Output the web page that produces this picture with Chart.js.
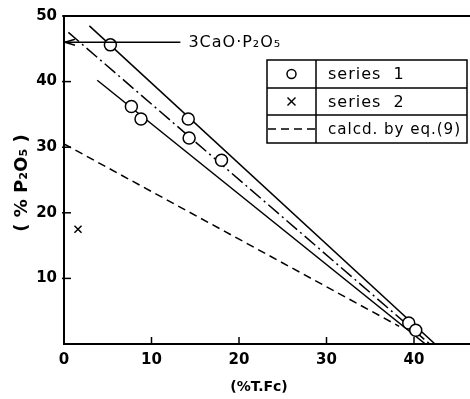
<!DOCTYPE html>
<html>
<head>
<meta charset="utf-8">
<script src="https://cdn.jsdelivr.net/npm/chart.js@4"></script>
<style>
  html, body { margin: 0; padding: 0; background: #fff; overflow: hidden; }
  #caixa { width: 470px; height: 399px; position: relative; }
  #grafico { display: block; }
</style>
</head>
<body>
<div id="caixa"><canvas id="grafico"></canvas></div>
<script>
// pontos medidos
const tfeSerie1 = [5.3, 7.7, 8.8, 14.2, 14.3, 18.0, 39.4, 40.2];
const p2o5Serie1 = [45.6, 36.2, 34.3, 34.3, 31.4, 28.0, 3.2, 2.1];
const tfeSerie2 = [1.6];
const p2o5Serie2 = [17.5];

// retas ajustadas (extremos)
const retaSuperiorX = [2.9, 42.4];
const retaSuperiorY = [48.5, 0];
const retaTracoPontoX = [0.5, 41.8];
const retaTracoPontoY = [47.5, 0];
const retaInferiorX = [3.8, 41.3];
const retaInferiorY = [40.2, 0];
const calculadaX = [0, 38.3];
const calculadaY = [30.5, 2.7];

// nivel do 3CaO.P2O5
const nivelCaO = 46;
const fimSetaCaO = 13.3;

const ticksX = [0, 10, 20, 30, 40];
const ticksY = [10, 20, 30, 40, 50];

const pares = (xs, ys) => xs.map((v, i) => ({ x: v, y: ys[i] }));

const fonteTick = { family: 'DejaVu Sans', size: 15, weight: 'bold' };

const extras = {
    id: 'extras',
    afterDraw(chart) {
        const ctx = chart.ctx;
        const { left, right, top, bottom } = chart.chartArea;
        const sx = chart.scales.x;
        const sy = chart.scales.y;
        const linha = (x1, y1, x2, y2) => {
            ctx.beginPath();
            ctx.moveTo(x1, y1);
            ctx.lineTo(x2, y2);
            ctx.stroke();
        };
        ctx.save();
        ctx.strokeStyle = '#000';
        ctx.fillStyle = '#000';

        // linha de cima
        ctx.lineWidth = 2;
        linha(left - 1, top, right, top);

        // marcas para dentro
        ctx.lineWidth = 1.5;
        ticksX.forEach(v => {
            if (v === 0) return;
            const px = sx.getPixelForValue(v);
            linha(px, bottom, px, bottom - 7);
        });
        ticksY.forEach(v => {
            const py = sy.getPixelForValue(v);
            linha(left - 2, py, left + 7, py);
        });

        // seta do 3CaO.P2O5
        const yc = sy.getPixelForValue(nivelCaO);
        const xf = sx.getPixelForValue(fimSetaCaO);
        linha(left + 1, yc, xf, yc);
        linha(left + 1, yc, left + 11, yc - 3);
        linha(left + 1, yc, left + 11, yc + 3);
        ctx.font = '16px "DejaVu Sans"';
        ctx.letterSpacing = '1px';
        ctx.textBaseline = 'middle';
        ctx.textAlign = 'left';
        ctx.fillText('3CaO·P₂O₅', xf + 8, yc + 1);

        // legenda em tabela
        const lx = 267, lt = 60, lr = 467, lb = 143, lm = 316;
        const linhas = [lt, 88, 115, lb];
        ctx.lineWidth = 1.5;
        ctx.strokeRect(lx, lt, lr - lx, lb - lt);
        linha(lm, lt, lm, lb);
        linha(lx, linhas[1], lr, linhas[1]);
        linha(lx, linhas[2], lr, linhas[2]);

        const ds = chart.data.datasets;
        const itens = [ds[0], ds[1], ds[5]];
        itens.forEach((d, i) => {
            const cy = (linhas[i] + linhas[i + 1]) / 2;
            const cx = (lx + lm) / 2;
            ctx.lineWidth = 1.5;
            if (i === 0) {
                ctx.beginPath();
                ctx.arc(cx, cy, 4.5, 0, Math.PI * 2);
                ctx.stroke();
            } else if (i === 1) {
                linha(cx - 4, cy - 4, cx + 4, cy + 4);
                linha(cx - 4, cy + 4, cx + 4, cy - 4);
            } else {
                ctx.setLineDash(d.borderDash);
                linha(lx + 1, cy, lm - 1, cy);
                ctx.setLineDash([]);
            }
            ctx.font = '16px "DejaVu Sans"';
            ctx.fillText(d.label, lm + 12, cy + 1, lr - lm - 18);
        });

        // titulos dos eixos
        ctx.letterSpacing = '0px';
        ctx.textAlign = 'center';
        ctx.font = 'bold 14px "DejaVu Sans"';
        ctx.fillText('(%T.Fc)', 259, 387);
        ctx.translate(22, 183);
        ctx.rotate(-Math.PI / 2);
        ctx.font = 'bold 18px "DejaVu Sans"';
        ctx.fillText('( % P₂O₅ )', 0, 0);
        ctx.restore();
    }
};

new Chart(document.getElementById('grafico'), {
    type: 'scatter',
    data: {
        datasets: [
            {
                label: 'series  1',
                data: pares(tfeSerie1, p2o5Serie1),
                pointStyle: 'circle',
                pointRadius: 6,
                borderColor: '#000',
                backgroundColor: '#fff',
                borderWidth: 1.5,
            },
            {
                label: 'series  2',
                data: pares(tfeSerie2, p2o5Serie2),
                pointStyle: 'crossRot',
                pointRadius: 5,
                borderColor: '#000',
                borderWidth: 1.5,
            },
            {
                label: 'upper',
                data: pares(retaSuperiorX, retaSuperiorY),
                showLine: true,
                pointRadius: 0,
                borderColor: '#000',
                borderWidth: 1.5,
            },
            {
                label: 'dash-dot',
                data: pares(retaTracoPontoX, retaTracoPontoY),
                showLine: true,
                pointRadius: 0,
                borderColor: '#000',
                borderWidth: 1.5,
                borderDash: [14, 4, 2, 4],
            },
            {
                label: 'lower',
                data: pares(retaInferiorX, retaInferiorY),
                showLine: true,
                pointRadius: 0,
                borderColor: '#000',
                borderWidth: 1.5,
            },
            {
                label: 'calcd. by eq.(9)',
                data: pares(calculadaX, calculadaY),
                showLine: true,
                pointRadius: 0,
                borderColor: '#000',
                borderWidth: 1.5,
                borderDash: [8, 5],
            },
        ],
    },
    options: {
        responsive: true,
        maintainAspectRatio: false,
        animation: false,
        layout: {
            autoPadding: false,
            padding: { top: 16, right: 0, left: 0, bottom: 0 },
        },
        plugins: {
            legend: { display: false },
            tooltip: { enabled: false },
        },
        scales: {
            x: {
                type: 'linear',
                min: 0,
                max: 46.4,
                afterFit: (escala) => {
                    escala.height = 55;
                    escala.paddingLeft = 0;
                    escala.paddingRight = 0;
                },
                grid: { display: false, drawTicks: false },
                border: { display: true, color: '#000', width: 2 },
                ticks: {
                    stepSize: 10,
                    includeBounds: false,
                    padding: 7,
                    color: '#000',
                    font: fonteTick,
                },
            },
            y: {
                type: 'linear',
                min: 0,
                max: 50,
                afterFit: (escala) => { escala.width = 64; },
                grid: { display: false, drawTicks: false },
                border: { display: true, color: '#000', width: 2 },
                ticks: {
                    stepSize: 10,
                    padding: 7,
                    color: '#000',
                    font: fonteTick,
                    callback: (v) => (v === 0 ? '' : v),
                },
            },
        },
    },
    plugins: [extras],
});
</script>
</body>
</html>
